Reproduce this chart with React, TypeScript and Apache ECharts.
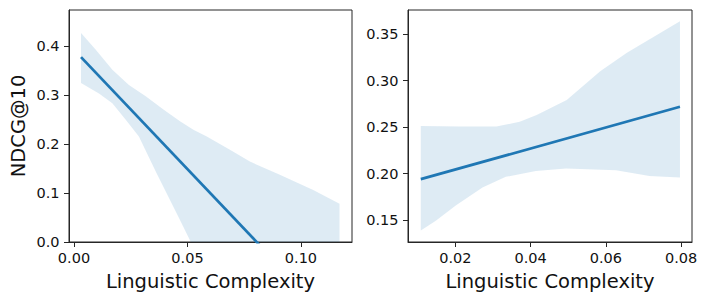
import React, { useEffect, useRef } from "react";
import * as echarts from "echarts";

// ---- data ----
const leftXTicks = [0, 0.05, 0.1];
const leftYTicks = [0, 0.1, 0.2, 0.3, 0.4];
const rightXTicks = [0.02, 0.04, 0.06, 0.08];
const rightYTicks = [0.15, 0.2, 0.25, 0.3, 0.35];

const leftLine: [number, number][] = [
  [0.0031, 0.377],
  [0.117, -0.178],
];
const leftBandUpper: [number, number][] = [
  [0.0031, 0.426], [0.0096, 0.392], [0.0169, 0.351], [0.0242, 0.32], [0.0316, 0.297],
  [0.0394, 0.27], [0.0467, 0.246], [0.0526, 0.229], [0.0585, 0.215], [0.0687, 0.188],
  [0.0775, 0.164], [0.0907, 0.137], [0.1054, 0.106], [0.117, 0.078],
];
const leftBandLower: [number, number][] = [
  [0.0031, 0.324], [0.011, 0.303], [0.0169, 0.283], [0.0228, 0.249], [0.0286, 0.215],
  [0.0364, 0.14], [0.0467, 0.045], [0.052, -0.005], [0.06, -0.08], [0.117, -0.6],
];

const rightLine: [number, number][] = [
  [0.0108, 0.1939],
  [0.0797, 0.2719],
];
const rightBandUpper: [number, number][] = [
  [0.0108, 0.2511], [0.0211, 0.2505], [0.0309, 0.2505], [0.0371, 0.2557], [0.0416, 0.263],
  [0.0496, 0.279], [0.0585, 0.31], [0.0656, 0.33], [0.0797, 0.364],
];
const rightBandLower: [number, number][] = [
  [0.0108, 0.1387], [0.0147, 0.149], [0.0201, 0.1655], [0.0272, 0.185], [0.0334, 0.1964],
  [0.0414, 0.2028], [0.0494, 0.2053], [0.0627, 0.2035], [0.0716, 0.1974], [0.0797, 0.1956],
];

const xTitle = "Linguistic Complexity";
const yTitle = "NDCG@10";

// ---- style ----
const FONT = '"DejaVu Sans", sans-serif';
const INK = "#262626";
const TXT = "#111";
const BLUE = "#1f77b4";
const BAND = "rgba(31,119,180,0.15)";

function bandSeries(upper: [number, number][], lower: [number, number][], idx: number) {
  const poly = upper.concat(lower.slice().reverse());
  return {
    type: "custom",
    xAxisIndex: idx,
    yAxisIndex: idx,
    clip: true,
    silent: true,
    z: 1,
    data: poly,
    encode: { x: 0, y: 1 },
    renderItem: (params: any, api: any) => {
      if (params.dataIndex !== 0) return null;
      return {
        type: "polygon",
        shape: { points: poly.map((p) => api.coord(p)) },
        style: { fill: BAND },
      };
    },
  };
}

function lineSeries(data: [number, number][], idx: number) {
  return {
    type: "line",
    xAxisIndex: idx,
    yAxisIndex: idx,
    data,
    symbol: "none",
    clip: true,
    z: 3,
    lineStyle: { color: BLUE, width: 2.75 },
    silent: true,
  };
}

function xAxis(idx: number, min: number, max: number, ticks: number[]) {
  return {
    type: "value",
    gridIndex: idx,
    min,
    max,
    splitLine: { show: false },
    axisLine: { show: true, onZero: false, lineStyle: { color: INK, width: 1 } },
    axisTick: { show: true, length: 5, lineStyle: { color: INK }, customValues: ticks },
    axisLabel: {
      customValues: ticks,
      formatter: (v: number) => v.toFixed(2),
      fontSize: 14.5,
      fontFamily: FONT,
      color: TXT,
      margin: 8,
    },
    name: xTitle,
    nameLocation: "middle",
    nameGap: 29,
    nameTextStyle: { fontSize: 19.5, fontFamily: FONT, color: TXT },
  };
}

function yAxis(idx: number, min: number, max: number, ticks: number[], digits: number, name?: string) {
  return {
    type: "value",
    gridIndex: idx,
    min,
    max,
    splitLine: { show: false },
    axisLine: { show: true, onZero: false, lineStyle: { color: INK, width: 1 } },
    axisTick: { show: true, length: 5, lineStyle: { color: INK }, customValues: ticks },
    axisLabel: {
      customValues: ticks,
      formatter: (v: number) => v.toFixed(digits),
      fontSize: 14.5,
      fontFamily: FONT,
      color: TXT,
      margin: 9.5,
    },
    name: name || "",
    nameLocation: "middle",
    nameGap: 41,
    nameTextStyle: { fontSize: 19.5, fontFamily: FONT, color: TXT },
  };
}

export default function App() {
  const ref = useRef<HTMLDivElement>(null);
  useEffect(() => {
    if (!ref.current) return;
    const chart = echarts.init(ref.current, undefined, { renderer: "svg" });
    chart.setOption({
      animation: false,
      backgroundColor: "#ffffff",
      grid: [
        { left: 69, right: 358, top: 10, bottom: 61, show: true, borderColor: INK, borderWidth: 1, backgroundColor: "transparent" },
        { left: 408, right: 18, top: 10, bottom: 61, show: true, borderColor: INK, borderWidth: 1, backgroundColor: "transparent" },
      ],
      xAxis: [
        xAxis(0, -0.0022, 0.1225, leftXTicks),
        xAxis(1, 0.0074, 0.0829, rightXTicks),
      ],
      yAxis: [
        yAxis(0, 0, 0.473, leftYTicks, 1, yTitle),
        yAxis(1, 0.1263, 0.376, rightYTicks, 2),
      ],
      series: [
        bandSeries(leftBandUpper, leftBandLower, 0),
        lineSeries(leftLine, 0),
        bandSeries(rightBandUpper, rightBandLower, 1),
        lineSeries(rightLine, 1),
      ],
    });
    return () => chart.dispose();
  }, []);
  return (
    <div
      ref={ref}
      style={{ position: "fixed", left: 0, top: 0, width: 710, height: 303, background: "#fff" }}
    />
  );
}
